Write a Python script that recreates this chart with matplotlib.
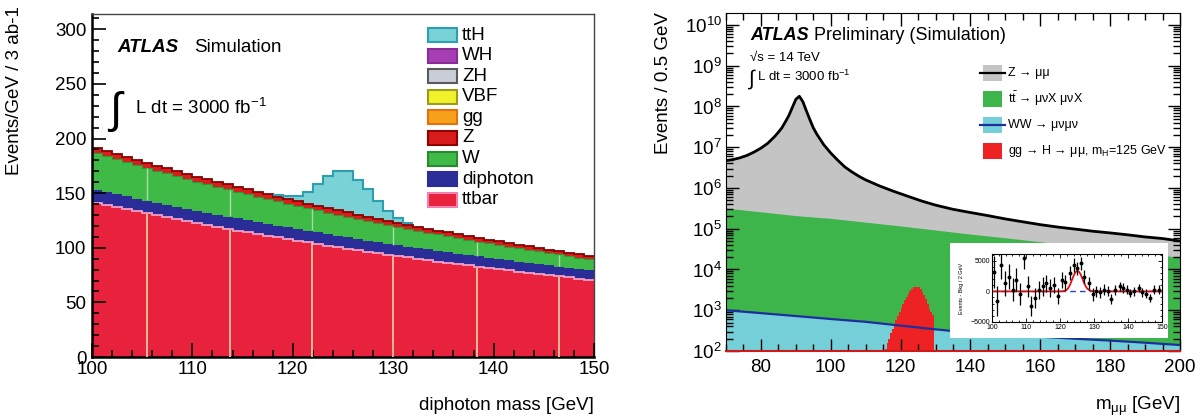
import numpy as np
import matplotlib
matplotlib.use('Agg')
import matplotlib.pyplot as plt
from matplotlib.patches import Rectangle
from matplotlib.lines import Line2D
from matplotlib.ticker import MultipleLocator, FixedLocator, LogLocator, NullFormatter, FuncFormatter

plt.rcParams['font.family'] = ['Liberation Sans', 'DejaVu Sans']
plt.rcParams['mathtext.fontset'] = 'custom'
plt.rcParams['mathtext.rm'] = 'Liberation Sans'
plt.rcParams['mathtext.it'] = 'Liberation Sans:italic'
plt.rcParams['mathtext.bf'] = 'Liberation Sans:bold'

# ---------------- left panel data (1 GeV bins, 100-150 GeV) ----------------
ttbar = [141.0, 139.0, 137.1, 135.2, 133.3, 131.4, 129.6, 127.8, 126.0, 124.2,
         122.5, 120.8, 119.1, 117.4, 115.8, 114.2, 112.6, 111.0, 109.4, 107.9,
         106.4, 104.9, 103.4, 102.0, 100.6, 99.2, 97.8, 96.4, 95.1, 93.7,
         92.4, 91.1, 89.9, 88.6, 87.4, 86.1, 84.9, 83.8, 82.6, 81.4,
         80.3, 79.2, 78.1, 77.0, 75.9, 74.8, 73.8, 72.8, 71.7, 70.7]
diphoton = [12.0, 11.9, 11.8, 11.8, 11.7, 11.6, 11.6, 11.5, 11.5, 11.4,
            11.3, 11.3, 11.2, 11.1, 11.1, 11.0, 10.9, 10.9, 10.8, 10.8,
            10.7, 10.6, 10.6, 10.5, 10.4, 10.4, 10.3, 10.2, 10.2, 10.1,
            10.0, 10.0, 9.9, 9.9, 9.8, 9.7, 9.7, 9.6, 9.5, 9.5,
            9.4, 9.3, 9.3, 9.2, 9.2, 9.1, 9.0, 9.0, 8.9, 8.8]
w_bkg = [33.6, 33.0, 32.2, 31.4, 30.8, 30.1, 29.4, 28.7, 28.0, 27.5,
         26.8, 26.2, 25.6, 25.0, 24.4, 23.8, 23.4, 22.7, 22.2, 21.7,
         21.2, 20.8, 20.2, 19.7, 19.3, 18.7, 18.4, 17.9, 17.4, 17.1,
         16.7, 16.3, 15.8, 15.3, 15.0, 14.7, 14.3, 13.9, 13.6, 13.2,
         12.9, 12.6, 12.2, 11.9, 11.6, 11.3, 11.1, 10.6, 10.4, 10.2]
z_bkg = [5.0, 4.9, 4.9, 4.9, 4.8, 4.8, 4.7, 4.7, 4.7, 4.6,
         4.6, 4.5, 4.5, 4.5, 4.4, 4.4, 4.3, 4.3, 4.3, 4.2,
         4.2, 4.1, 4.1, 4.1, 4.0, 4.0, 3.9, 3.9, 3.9, 3.8,
         3.8, 3.7, 3.7, 3.7, 3.6, 3.6, 3.5, 3.5, 3.5, 3.4,
         3.4, 3.3, 3.3, 3.3, 3.2, 3.2, 3.1, 3.1, 3.1, 3.0]
tth = [0, 0, 0, 0, 0, 0, 0, 0, 0, 0,
       0, 0, 0, 0, 0, 0, 0, 0, 1.5, 3.0,
       5.0, 11.0, 20.0, 29.0, 36.0, 38.0, 32.0, 25.0, 16.0, 9.0,
       4.0, 1.5, 0, 0, 0, 0, 0, 0, 0, 0,
       0, 0, 0, 0, 0, 0, 0, 0, 0, 0]
left_labels = ['ttH', 'WH', 'ZH', 'VBF', 'gg', 'Z', 'W', 'diphoton', 'ttbar']
left_fill = ['#78d2d6', '#a63fb4', '#c9cdd8', '#f2f22a', '#f7a11a', '#d91c1c', '#3fba47', '#2a2c98', '#e8213d']
left_edge = ['#2e9fb0', '#8a2c98', '#5a5a5a', '#9a9a20', '#e07010', '#900000', '#2a8a30', '#2a2c98', '#f080b0']
seam_x = [105.5, 113.7, 121.9, 130.0, 138.3, 146.5]

# ---------------- right panel data ----------------
z_mass = [70, 72, 74, 76, 78, 80, 82, 84, 85, 86, 87, 88, 89, 90, 91, 92, 93, 94, 95, 96,
          98, 100, 102, 104, 106, 108, 110, 114, 118, 122, 126, 130, 135, 140, 145, 150,
          155, 160, 165, 170, 175, 180, 185, 190, 195, 200]
z_evt = [4.7e6, 5.0e6, 5.5e6, 6.3e6, 7.6e6, 9.5e6, 1.26e7, 1.86e7, 2.34e7, 3.0e7, 4.2e7, 6.0e7,
         9.5e7, 1.5e8, 1.78e8, 1.32e8, 7.9e7, 4.8e7, 3.0e7, 2.1e7,
         1.15e7, 7.2e6, 4.8e6, 3.3e6, 2.5e6, 1.95e6, 1.58e6, 1.12e6, 8.3e5, 6.3e5, 4.8e5, 3.8e5,
         3.0e5, 2.5e5, 2.1e5, 1.74e5, 1.48e5, 1.26e5, 1.10e5, 9.8e4, 8.7e4, 7.9e4, 7.1e4,
         6.3e4, 5.75e4, 5.0e4]
tt_mass = [70, 80, 90, 100, 110, 120, 130, 140, 150, 160, 170, 180, 190, 200]
tt_evt = [3.2e5, 2.6e5, 2.1e5, 1.8e5, 1.45e5, 1.17e5, 9.3e4, 7.4e4, 6.0e4, 4.8e4, 3.8e4, 3.1e4, 2.45e4, 2.0e4]
ww_mass = [70, 80, 90, 100, 110, 120, 130, 140, 150, 160, 170, 180, 190, 200]
ww_evt = [1000, 850, 720, 610, 520, 420, 340, 280, 250, 225, 200, 180, 160, 140]
h_edges = [115.5, 116, 116.5, 117, 117.5, 118, 118.5, 119, 119.5, 120, 120.5, 121, 121.5, 122,
           122.5, 123, 123.5, 124, 124.5, 125, 125.5, 126, 126.5, 127, 127.5, 128, 128.5, 129, 129.5]
h_evt = [112, 158, 200, 282, 355, 447, 562, 708, 891, 1122, 1413, 1778, 2138, 2570, 2951,
         3311, 3631, 3802, 3802, 3631, 3311, 2884, 2399, 1905, 1445, 1096, 891, 759]
right_labels = ['Z \u2192 \u03bc\u03bc',
                '$\\mathrm{t\\bar{t}}$ \u2192 \u03bc\u03bdX \u03bc\u03bdX',
                'WW \u2192 \u03bc\u03bd\u03bc\u03bd',
                'gg \u2192 H \u2192 \u03bc\u03bc, m$_{\\mathrm{H}}$=125 GeV']

# inset: signal minus background
ins_mass = [100.5, 101.5, 102.6, 103.9, 104.9, 106.2, 107.2, 108.3, 109.5, 110.5, 111.6, 112.7,
            113.7, 115.0, 116.0, 117.2, 118.3, 119.3, 120.5, 121.6, 122.8, 124.0, 125.0, 126.2,
            127.2, 128.4, 129.6, 130.7, 131.9, 132.8, 134.0, 135.1, 136.3, 137.5, 138.5, 139.7,
            140.7, 141.9, 143.1, 144.2, 145.4, 146.6, 147.7, 149.0]
ins_val = [3200, -1600, 4300, 1300, 2400, 270, 1900, -500, 5400, 800, -2400, -1100,
           270, 800, 1300, 540, 1075, -800, 1900, 1450, 3000, 4300, 3760, 4570,
           2400, 1300, -500, 0, -160, 270, 0, -1300, 270, 800, 540, 270,
           -270, 0, 540, -160, -380, -1100, 270, 270]
ins_err = [2600, 2400, 2200, 2000, 2000, 1900, 1900, 1800, 1800, 1700, 1700, 1600,
           1500, 1500, 1400, 1400, 1300, 1300, 1300, 1200, 1200, 1200, 1100, 1100,
           1100, 1000, 1000, 900, 900, 900, 800, 800, 800, 800, 800, 700,
           700, 700, 700, 700, 700, 700, 700, 700]
fit_mass = [100, 120, 121, 122, 122.5, 123, 123.5, 124, 124.5, 125, 125.5, 126, 126.5, 127,
            127.5, 128, 129, 130, 150]
fit_val = [0, 0, 30, 250, 600, 1150, 1850, 2550, 3100, 3350, 3250, 2850, 2200, 1500,
           900, 450, 80, 0, 0]

# ---------------- figure ----------------
W, H = 1202, 417
fig = plt.figure(figsize=(W / 100, H / 100), dpi=100)
fig.patch.set_facecolor('white')


def fx(x):
    return x / W


def fy(y):
    return 1 - y / H


def box(x0, y0, x1, y1):
    return [fx(x0), fy(y1), fx(x1) - fx(x0), fy(y0) - fy(y1)]


# ======== LEFT ========
ax = fig.add_axes(box(92, 14, 594, 357))
edges = np.arange(100, 151)
b1 = np.array(ttbar)
b2 = b1 + np.array(diphoton)
b3 = b2 + np.array(w_bkg)
b4 = b3 + np.array(z_bkg)
sig = np.array(tth)
b5 = b4 + sig

ax.stairs(b1, edges, baseline=0, fill=True, color=left_fill[8], lw=0)
ax.stairs(b2, edges, baseline=b1, fill=True, color=left_fill[7], lw=0)
ax.stairs(b3, edges, baseline=b2, fill=True, color=left_fill[6], lw=0)
ax.stairs(b4, edges, baseline=b3, fill=True, color=left_fill[5], lw=0)
ax.stairs(b1, edges, baseline=None, color='#f4a0c8', lw=1.3)
ax.stairs(b3, edges, baseline=None, color='#2f9a35', lw=0.8)
nz = np.nonzero(sig)[0]
lo, hi = nz[0], nz[-1] + 1
ax.stairs(b5[lo:hi], edges[lo:hi + 1], baseline=b4[lo:hi], fill=True, color=left_fill[0], lw=0)
ax.stairs(b4, edges, baseline=None, color='#8a0000', lw=1.3)
ax.stairs(b5[lo:hi], edges[lo:hi + 1], baseline=None, color=left_edge[0], lw=1.5)

# pale seams (rendering artefacts of the original)
for sx in seam_x:
    i = int(sx - 100)
    ax.vlines(sx, 0, b1[i] - 0.8, color='#f7d3a6', lw=1.2, zorder=3)
    ax.vlines(sx, b2[i] + 0.5, b3[i] - 0.5, color='#a8dca4', lw=1.0, zorder=3)

ax.set_xlim(100, 150)
ax.set_ylim(0, 314)
ax.xaxis.set_major_locator(MultipleLocator(10))
ax.xaxis.set_minor_locator(MultipleLocator(2))
ax.yaxis.set_major_locator(MultipleLocator(50))
ax.yaxis.set_minor_locator(MultipleLocator(10))
ax.tick_params(which='both', direction='in', top=False, right=False, labelsize=13.5, width=1.2,
               color='black', zorder=10)
ax.tick_params(which='major', length=10)
ax.tick_params(which='minor', length=5)
ax.tick_params(axis='x', pad=3)
ax.tick_params(axis='y', pad=4)
for s in ['left', 'bottom']:
    ax.spines[s].set_linewidth(1.8)
for s in ['top', 'right']:
    ax.spines[s].set_linewidth(1.0)
    ax.spines[s].set_color('#444444')
ax.set_axisbelow(False)

fig.text(fx(15), fy(6), 'Events/GeV / 3 ab-1', rotation=90, ha='center', va='top', size=13.5)
fig.text(fx(594), fy(406), 'diphoton mass [GeV]', ha='right', va='center', size=13.5)
fig.text(fx(117), fy(47), 'ATLAS', weight='bold', style='italic', ha='left', va='center', size=13.5)
fig.text(fx(194), fy(47), 'Simulation', ha='left', va='center', size=13.5)
fig.text(fx(109), fy(111), '\u222b', ha='left', va='center', size=32)
fig.text(fx(135), fy(108), r'L dt = 3000 fb$^{-1}$', ha='left', va='center', size=13.5)

# left legend
ly0, ldy = 35, 20.6
for k, lab in enumerate(left_labels):
    yc = ly0 + k * ldy
    fig.patches.append(Rectangle((fx(428), fy(yc + 7)), fx(457) - fx(428), fy(yc - 7) - fy(yc + 7),
                                 transform=fig.transFigure, facecolor=left_fill[k],
                                 edgecolor=left_edge[k], lw=1.5, zorder=5))
    fig.text(fx(462), fy(yc), lab, ha='left', va='center', size=13.5)

# ======== RIGHT ========
ar = fig.add_axes(box(726, 13, 1180, 351))
bottom = 1.0
ar.fill_between(z_mass, bottom, z_evt, color='#c4c4c4', lw=0)
ar.fill_between(tt_mass, bottom, tt_evt, color='#3db54b', lw=0)
ar.fill_between(ww_mass, bottom, ww_evt, color='#74cfd8', lw=0)
ar.plot(ww_mass, ww_evt, color='#1f2e9e', lw=1.6)
ar.stairs(h_evt, h_edges, baseline=bottom, fill=True, color='#ee2222', lw=0)
ar.plot(z_mass, z_evt, color='black', lw=2.0)
ar.set_yscale('log')
ar.set_xlim(70, 200)
ar.set_ylim(100, 1.97e10)
ar.xaxis.set_major_locator(MultipleLocator(20))
ar.xaxis.set_minor_locator(MultipleLocator(5))
ar.yaxis.set_major_locator(FixedLocator([10.0 ** k for k in range(2, 11)]))
ar.yaxis.set_minor_locator(LogLocator(base=10, subs=np.arange(2, 10), numticks=20))
ar.yaxis.set_minor_formatter(NullFormatter())
ar.yaxis.set_major_formatter(FuncFormatter(lambda v, p: r'$10^{%d}$' % round(np.log10(v))))
ar.tick_params(which='both', direction='in', top=True, right=True, labelsize=13.5, width=1.0)
ar.tick_params(which='major', length=9)
ar.tick_params(which='minor', length=5)
ar.tick_params(axis='x', pad=6)
ar.tick_params(axis='y', pad=3)
ar.spines['bottom'].set_color('#d01818')
ar.spines['bottom'].set_linewidth(1.5)

fig.text(fx(663), fy(12), 'Events / 0.5 GeV', rotation=90, ha='center', va='top', size=13.5)
fig.text(fx(1180), fy(406), 'm$_{\\mathrm{\u03bc\u03bc}}$ [GeV]', ha='right', va='center', size=13.5)
fig.text(fx(750), fy(35), 'ATLAS', weight='bold', style='italic', ha='left', va='center', size=13)
fig.text(fx(814), fy(35), 'Preliminary (Simulation)', ha='left', va='center', size=13)
fig.text(fx(750), fy(58), '\u221as = 14 TeV', ha='left', va='center', size=9.5)
fig.text(fx(748), fy(79), '\u222b', ha='left', va='center', size=15)
fig.text(fx(757), fy(76), r'L dt = 3000 fb$^{-1}$', ha='left', va='center', size=9.5)

# right legend
rfill = ['#c4c4c4', '#3db54b', '#74cfd8', '#ee2222']
rline = ['black', None, '#1f2e9e', None]
for k, lab in enumerate(right_labels):
    yc = 73 + k * 26
    fig.patches.append(Rectangle((fx(983), fy(yc + 8)), fx(1002) - fx(983), fy(yc - 8) - fy(yc + 8),
                                 transform=fig.transFigure, facecolor=rfill[k], lw=0, zorder=5))
    if rline[k]:
        fig.lines.append(Line2D([fx(980), fx(1005)], [fy(yc), fy(yc)], transform=fig.transFigure,
                                color=rline[k], lw=1.6, zorder=6))
    fig.text(fx(1008), fy(yc), lab, ha='left', va='center', size=9)

# inset background and inset
bg = fig.add_axes(box(950, 243, 1168, 338))
bg.set_facecolor('white')
bg.set_xticks([])
bg.set_yticks([])
for s in bg.spines.values():
    s.set_visible(False)
bg.set_zorder(3)

ai = fig.add_axes(box(992, 254, 1162, 322))
ai.set_zorder(4)
ai.plot([100, 150], [0, 0], color='#3040c0', lw=1.0, ls=(0, (4, 3)))
ai.plot(fit_mass, fit_val, color='#e01010', lw=1.3)
ai.errorbar(ins_mass, ins_val, yerr=ins_err, fmt='o', ms=1.8, color='black', ecolor='black',
            elinewidth=0.9, capsize=0)
ai.set_xlim(100, 150)
ai.set_ylim(-5000, 6100)
ai.set_xticks([100, 110, 120, 130, 140, 150])
ai.set_yticks([-5000, 0, 5000])
ai.xaxis.set_minor_locator(MultipleLocator(2))
ai.yaxis.set_minor_locator(MultipleLocator(1000))
ai.tick_params(which='both', direction='in', top=True, right=True, labelsize=5, pad=1.5, width=0.6)
ai.tick_params(which='major', length=3)
ai.tick_params(which='minor', length=1.5)
for s in ai.spines.values():
    s.set_linewidth(0.8)
fig.text(fx(962), fy(288), 'Events - Bkg / 2 GeV', rotation=90, ha='center', va='center', size=4,
         zorder=6)

fig.savefig('out.png', dpi=100)
